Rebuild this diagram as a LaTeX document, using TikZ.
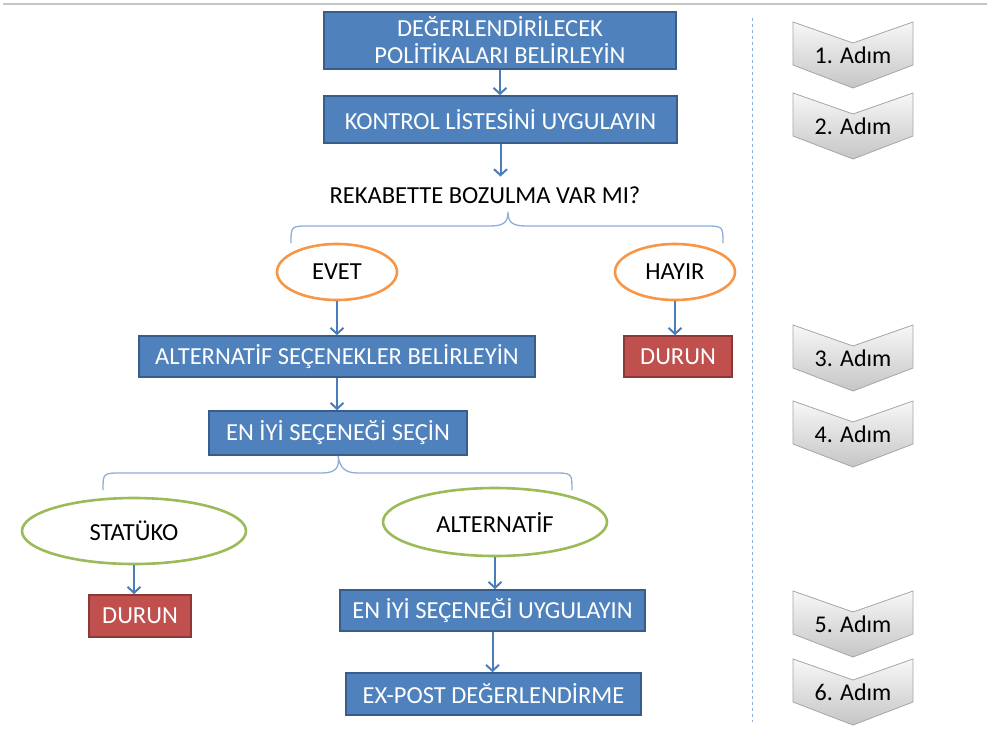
\documentclass[tikz,border=0pt]{standalone}
\usepackage{fontspec}
\setmainfont{Carlito}
\usetikzlibrary{shapes.geometric,arrows.meta,calc}
\definecolor{boxblue}{HTML}{4F81BD}
\definecolor{boxedge}{HTML}{385D8A}
\definecolor{boxred}{HTML}{C0504D}
\definecolor{rededge}{HTML}{8C3836}
\definecolor{orng}{HTML}{F79646}
\definecolor{grn}{HTML}{9BBB59}
\definecolor{arrblue}{HTML}{4A7EBB}
\definecolor{brc}{HTML}{8EAEDA}
\begin{document}
\begin{tikzpicture}[x=1pt,y=-1pt,
  txt/.style={font=\fontsize{24.5}{27}\selectfont},
  bluebox/.style={txt,rectangle,fill=boxblue,draw=boxedge,line width=1.6pt,text=white,inner sep=0pt,align=center},
  redbox/.style={txt,rectangle,fill=boxred,draw=rededge,line width=1.6pt,text=white,inner sep=0pt},
  oval/.style={txt,ellipse,fill=white,line width=2.6pt,inner sep=0pt,text=black},
  arr/.style={draw=arrblue,line width=2pt,-{Straight Barb[length=6pt,width=13pt,line width=2pt]}},
  brace/.style={draw=brc,line width=1.3pt},
  chev/.style={top color=gray!6,bottom color=gray!45,draw=gray!70,line width=0.8pt}
]
\useasboundingbox (0,0) rectangle (987,747);
\fill[white] (0,0) rectangle (987,747);
\draw[gray!45,line width=1.2pt] (3,4) -- (987,4);

% main flow
\node[bluebox,minimum width=352pt,minimum height=57pt] (b1) at (500,40.5)
  {DEĞERLENDİRİLECEK\\POLİTİKALARI BELİRLEYİN};
\node[bluebox,minimum width=353pt,minimum height=47pt] (b2) at (500.5,119.5)
  {KONTROL LİSTESİNİ UYGULAYIN};
\node[txt,text=black,inner sep=2pt,outer sep=8pt] (q) at (485,195) {REKABETTE BOZULMA VAR MI?};
\node[oval,draw=orng,minimum width=120pt,minimum height=56pt] (evet) at (337,272) {EVET};
\node[oval,draw=orng,minimum width=120pt,minimum height=56pt] (hayir) at (675,272) {HAYIR};
\node[bluebox,minimum width=396pt,minimum height=41pt] (alt) at (337,356.5)
  {ALTERNATİF SEÇENEKLER BELİRLEYİN};
\node[redbox,minimum width=108pt,minimum height=41pt] (d1) at (678,356.5) {DURUN};
\node[bluebox,minimum width=258pt,minimum height=44pt] (sec) at (338,433)
  {EN İYİ SEÇENEĞİ SEÇİN};
\node[oval,draw=grn,minimum width=224pt,minimum height=66pt] (stat) at (134,531) {STATÜKO};
\node[oval,draw=grn,minimum width=224pt,minimum height=68pt] (altv) at (495,522) {ALTERNATİF};
\node[redbox,minimum width=102pt,minimum height=42pt] (d2) at (140,616) {DURUN};
\node[bluebox,minimum width=305pt,minimum height=41pt] (uyg) at (492.5,610.5)
  {EN İYİ SEÇENEĞİ UYGULAYIN};
\node[bluebox,minimum width=295pt,minimum height=42pt] (ex) at (493.5,694)
  {EX-POST DEĞERLENDİRME};

% connectors
\draw[arr] (b1.south) -- (b1.south |- b2.north);
\draw[arr] (b2.south) -- (b2.south |- q.north);
\draw[arr] (evet.south) -- (evet.south |- alt.north);
\draw[arr] (hayir.south) -- (hayir.south |- d1.north);
\draw[arr] (alt.south) -- (alt.south |- sec.north);
\draw[arr] (stat.south) -- (stat.south |- d2.north);
\draw[arr] (altv.south) -- (altv.south |- uyg.north);
\draw[arr] (uyg.south) -- (uyg.south |- ex.north);

% braces
\coordinate (t1) at (508,212);
\draw[brace] (291,243) .. controls (291,226) and (291,226) .. (310,226) -- (490,226)
  .. controls (504,226) and (508,222) .. (t1)
  .. controls (508,222) and (512,226) .. (526,226) -- (704,226)
  .. controls (723,226) and (723,226) .. (723,243);
\coordinate (t2) at (sec.south);
\draw[brace] (103,490) .. controls (103,473) and (103,473) .. (122,473) -- (322,473)
  .. controls (336,473) and (340,467) .. (t2)
  .. controls (340,467) and (344,473) .. (358,473) -- (553,473)
  .. controls (572,473) and (572,473) .. (572,490);

% dashed separator
\draw[draw=brc,line width=1pt,dash pattern=on 3pt off 3pt] (752,18) -- (752,722);

% step chevrons
\foreach \t/\l in {22/1,93/2,325/3,401/4,591/5,659/6}{
  \shade[chev] (793,\t) -- (853,\t+21) -- (913,\t) -- (913,\t+43) -- (853,\t+66) -- (793,\t+43) -- cycle;
  \node[font=\fontsize{24}{28}\selectfont,text=black] (s\l) at (853,\t+33) {\l. Adım};
}
\end{tikzpicture}
\end{document}
